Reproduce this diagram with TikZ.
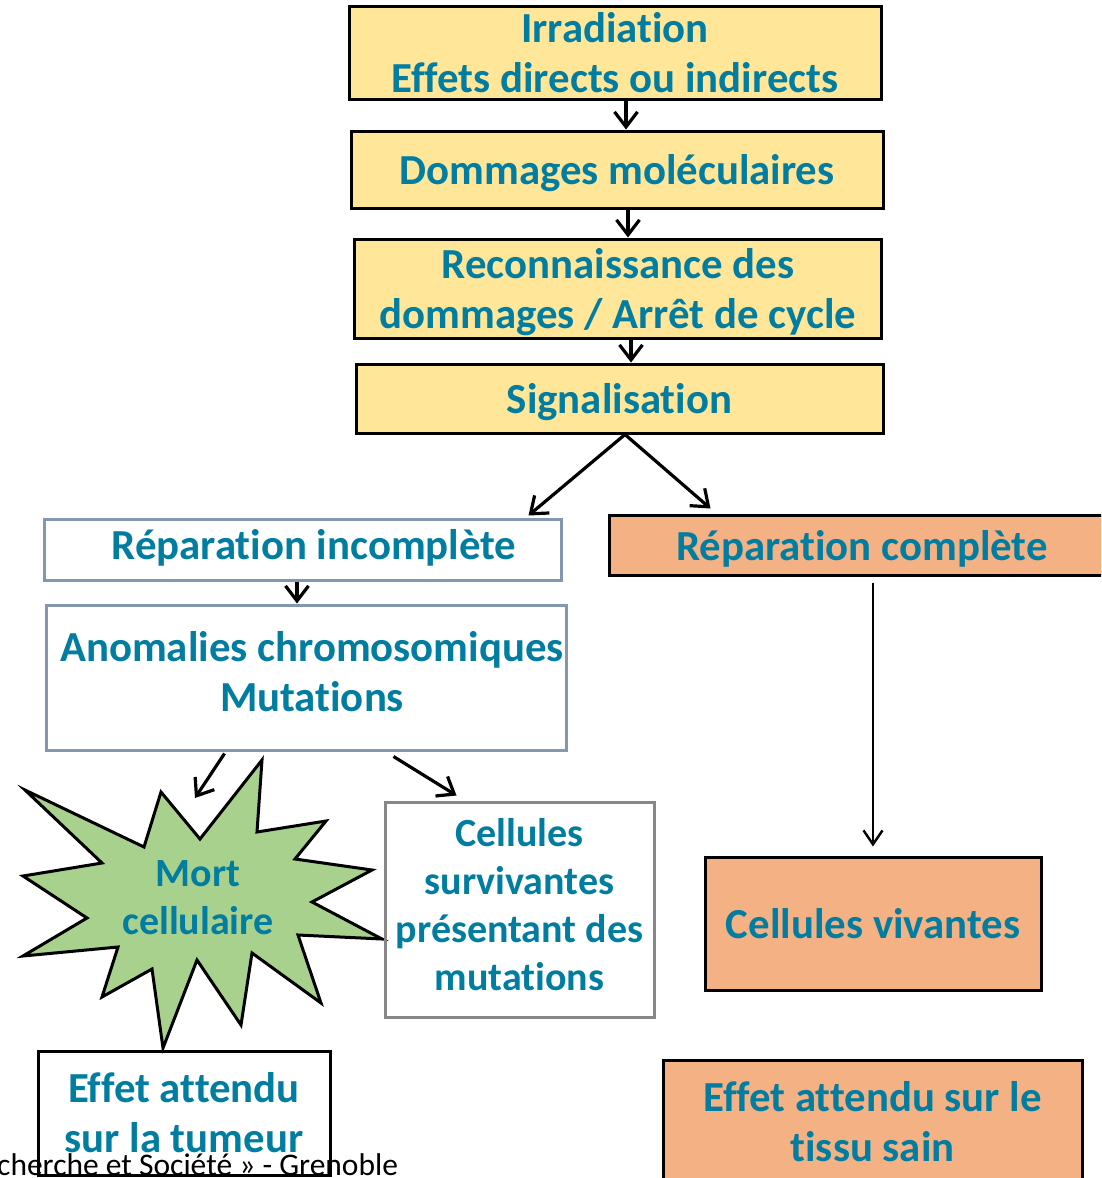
\documentclass[tikz,border=0pt]{standalone}
\usepackage{fontspec}
\setmainfont{Carlito}[Ligatures=NoCommon]
\usetikzlibrary{arrows.meta,calc}
\definecolor{tealc}{RGB}{0,125,160}
\definecolor{yel}{HTML}{FFE699}
\definecolor{ora}{HTML}{F4B183}
\definecolor{grn}{HTML}{A9D18E}
\definecolor{bgr}{HTML}{8497B0}
\definecolor{gry}{HTML}{878787}
\tikzset{
  big/.style={font=\bfseries\fontsize{42.8}{50}\selectfont, text=tealc, align=center, inner sep=0pt},
  mid/.style={font=\bfseries\fontsize{40}{48}\selectfont, text=tealc, align=center, inner sep=0pt},
  box/.style={rectangle, draw=black, line width=3pt, inner sep=0pt},
  ybox/.style={box, fill=yel},
  obox/.style={box, fill=ora},
  lbox/.style={box, draw=bgr},
  gbox/.style={box, draw=gry},
  arr/.style={line width=3.2pt, -{Straight Barb[length=15pt,width=23pt]}},
  thinarr/.style={line width=2.4pt, -{Straight Barb[length=14pt,width=19pt]}},
  starshape/.style={draw=black, line width=3pt, fill=grn, line join=miter},
}
\begin{document}
\begin{tikzpicture}[x=1pt,y=-1pt]
\useasboundingbox (0,0) rectangle (1101,1178);
\clip (0,0) rectangle (1101,1178);
\fill[white] (0,0) rectangle (1101,1178);

% top chain
\node[ybox, minimum width=532pt, minimum height=93pt] (irr) at (615,52.5) {};
\node[big] (irrtxt) at (615,53) {Irradiation\\Effets directs ou indirects};
\node[ybox, minimum width=532pt, minimum height=77pt] (dom) at (617,169.5) {};
\node[big] (domtxt) at (617,173.5) {Dommages moléculaires};
\node[ybox, minimum width=527pt, minimum height=99pt] (rec) at (617.5,288.5) {};
\node[big] (rectxt) at (618,292) {Reconnaissance des\\dommages / Arrêt de cycle};
\node[ybox, minimum width=527pt, minimum height=69pt] (sig) at (619.5,398.5) {};
\node[big] (sigtxt) at (619.5,402.5) {Signalisation};

% left branch
\node[lbox, minimum width=517pt, minimum height=61pt] (repi) at (302.5,549.5) {};
\node[big] (repitxt) at (314,548) {Réparation incomplète};
\node[lbox, minimum width=520pt, minimum height=145pt] (ano) at (306,677.5) {};
\node[big] (anotxt) at (312,672) {Anomalies chromosomiques\\Mutations};

% star
\draw[starshape] (25,790) -- (144,847) -- (161,792) -- (200,839) -- (262,760) -- (257,832)
  -- (326,821) -- (295,859) -- (372,870) -- (312,902) -- (382,939) -- (298,935)
  -- (321,1003) -- (252,953) -- (241,1025) -- (197,960) -- (163,1048) -- (152,969)
  -- (102,997) -- (118,947) -- (23,956) -- (87,918) -- (23,876) -- (102,863) -- cycle;
\node[mid] (mort) at (198,898) {Mort\\cellulaire};

\node[gbox, minimum width=269pt, minimum height=215pt] (surv) at (519.5,909.5) {};
\node[mid] (survtxt) at (519.5,904.5) {Cellules\\survivantes\\présentant des\\mutations};

\node[box, big, minimum width=292pt, minimum height=124pt] (tum) at (184,1113) {Effet attendu\\sur la tumeur};

% right branch
\node[obox, minimum width=506pt, minimum height=60pt] (repc) at (862,545) {};
\node[big] (repctxt) at (862,549) {Réparation complète};
\node[obox, big, minimum width=336pt, minimum height=133pt] (viv) at (873,923.5) {Cellules vivantes};
\node[obox, big, minimum width=419pt, minimum height=124pt] (sain) at (872.5,1122) {Effet attendu sur le\\tissu sain};

% footer
\node[anchor=base west, inner sep=0pt, font=\fontsize{31.5}{36}\selectfont, text=black] (foot) at (-3,1175) {cherche et Société » - Grenoble};

% connectors
\draw[arr] ([xshift=11pt]irr.south) -- ([xshift=11pt]irr.south |- dom.north);
\draw[arr] ([xshift=11pt]dom.south) -- ([xshift=11pt]dom.south |- rec.north);
\draw[arr] ([xshift=13.5pt]rec.south) -- ([xshift=13.5pt]rec.south |- sig.north);
\draw[arr] ([xshift=5.5pt]sig.south) -- ([xshift=-34pt,yshift=2pt]repi.north east);
\draw[arr] ([xshift=5.5pt]sig.south) -- ([xshift=103pt,yshift=5pt]repc.north west);
\draw[arr] ([xshift=-5.5pt]repi.south) -- ([xshift=-5.5pt]repi.south |- ano.north);
\coordinate (mortin) at (195,798);
\draw[arr] ([xshift=180pt,yshift=-2pt]ano.south west) -- (mortin);
\draw[arr] ([xshift=349pt,yshift=-5pt]ano.south west) -- ([xshift=73pt,yshift=5pt]surv.north west);
\draw[thinarr] ([yshift=-6pt]repc.south -| viv.north) -- ([yshift=9pt]viv.north);
\end{tikzpicture}
\end{document}
